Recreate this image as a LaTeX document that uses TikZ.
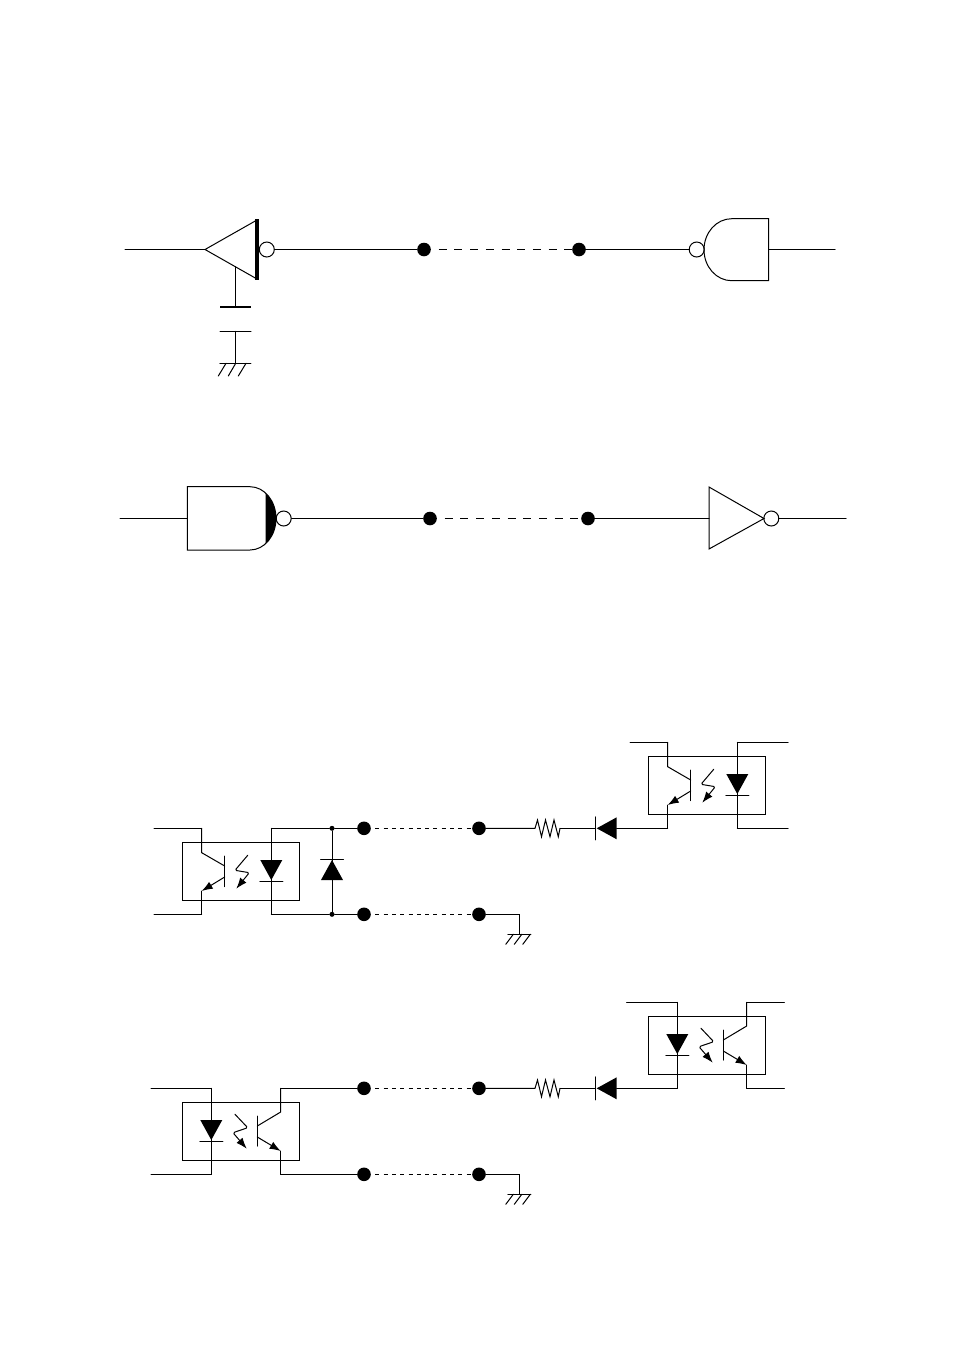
\documentclass[tikz,border=0pt]{standalone}
\usetikzlibrary{arrows.meta}
\tikzset{
  wire/.style = {line width=1pt, line cap=round, line join=miter},
  bus-dash/.style = {line width=1pt, dash pattern=on 8pt off 7.7pt, dash phase=8pt},
  link-dash/.style = {line width=1pt, dash pattern=on 4pt off 4.3pt, dash phase=4pt},
  end-dot/.style = {circle, fill=black, inner sep=0pt, minimum size=13.6pt},
  tap-dot/.style = {circle, fill=black, inner sep=0pt, minimum size=5pt},
  bubble/.style = {circle, draw, fill=white, wire, inner sep=0pt, minimum size=15pt},
  tip/.style = {-{Latex[length=11pt,width=8pt]}},
  diode/.pic = {
    \fill (-11,-10) -- (11,-10) -- (0,10) -- cycle;
    \draw[wire] (-11.5,11) -- (11.5,11);
    \coordinate (-in) at (0,-10);
    \coordinate (-out) at (0,11);
  },
  earth/.pic = {
    \draw[wire] (-11.5,0) -- (11.5,0);
    \draw[wire] (-6,0) -- (-13.5,10) (2.5,0) -- (-5,10) (11,0) -- (3.5,10);
  },
  earth-big/.pic = {
    \draw[wire] (-15.5,0) -- (15.5,0);
    \draw[wire] (-9.3,0) -- (-17,12.7) (0.4,0) -- (-7,12.7) (10.7,0) -- (3,12.7);
  },
  opto-a/.pic = {
    \draw[wire] (0,0) rectangle (117,58);
    % transistor on the left
    \coordinate (-tl) at (19.4,-14);
    \coordinate (-bl) at (19.4,72);
    \coordinate (-tr) at (89,-14);
    \coordinate (-br) at (89,72);
    \draw[wire] (-tl) -- (19.4,10.4) -- (42.4,23.7);
    \draw[wire] (42.4,13.7) -- (42.4,44.4);
    \draw[wire,tip] (42.4,34.7) -- (19.4,48.7);
    \draw[wire] (19.4,48.7) -- (-bl);
    \draw[wire,tip,rounded corners=1.5pt] (65.4,13) -- (52.7,28) -- (67,30.4) -- (54,46.4);
    \draw[wire] (-tr) -- (-br);
    \pic at (89,27.7) {diode};
  },
  opto-b/.pic = {
    \draw[wire] (0,0) rectangle (117,58);
    % transistor on the right
    \coordinate (-tl) at (29,-14);
    \coordinate (-bl) at (29,72);
    \coordinate (-tr) at (98.4,-14);
    \coordinate (-br) at (98.4,72);
    \draw[wire] (-tl) -- (-bl);
    \pic at (29,27.7) {diode};
    \draw[wire,tip,rounded corners=1.5pt] (52.7,12) -- (65.4,25.4) -- (50.7,30.4) -- (64.4,46.4);
    \draw[wire] (75,13.7) -- (75,43.7);
    \draw[wire] (75,23.7) -- (98.4,9.7) -- (-tr);
    \draw[wire,tip] (75,34.7) -- (98.4,48.7);
    \draw[wire] (98.4,48.7) -- (-br);
  }
}
\begin{document}
\begin{tikzpicture}[x=1pt, y=-1pt]
  \useasboundingbox (0,0) rectangle (954,1355);

  % first line
  \coordinate (in1) at (125,249.5);
  \coordinate (apex1) at (205,249.5);
  \coordinate (bar1t) at (257,219);
  \coordinate (bar1b) at (257,280);
  \coordinate (out1) at (835,249.5);
  \draw[wire] (apex1) -- (257,220) -- (257,279) -- cycle;
  \draw[line width=4.6pt] (bar1t) -- (bar1b);
  \node[bubble] (inv1) at (266.8,249.5) {};
  \node[end-dot] (d1) at (424,249.5) {};
  \node[end-dot] (d2) at (579,249.5) {};
  \node[bubble] (nand1) at (696.7,249.5) {};
  \draw[wire] (in1) -- (apex1);
  \draw[wire] (inv1) -- (d1);
  \draw[bus-dash] (d1) -- (d2);
  \draw[wire] (d2) -- (nand1);
  \draw[wire] (768.7,218.7) -- (731.7,218.7) .. controls (716.4,218.7) and (704,232.6) .. (704,249.7)
    .. controls (704,266.8) and (716.4,280.7) .. (731.7,280.7) -- (768.7,280.7) -- cycle;
  \draw[wire] (768.7,249.5) -- (out1);

  % capacitor to earth
  \coordinate (cap1) at (235.3,266.7);
  \coordinate (cap2) at (235.3,306.7);
  \coordinate (cap3) at (235.3,331.3);
  \coordinate (gnd1) at (235.3,363.3);
  \draw[wire] (cap1) -- (cap2);
  \draw[line width=2pt] (220,306.7) -- (251,306.7);
  \draw[wire] (220,331.3) -- (251,331.3);
  \draw[wire] (cap3) -- (gnd1);
  \pic at (gnd1) {earth-big};

  % second line
  \coordinate (in2) at (120,518.5);
  \coordinate (out2) at (846,518.5);
  \node[bubble] (nand2) at (283.7,518.5) {};
  \node[end-dot] (d3) at (430,518.5) {};
  \node[end-dot] (d4) at (588,518.5) {};
  \node[bubble] (inv2) at (771.3,518.5) {};
  \begin{scope}
    \clip (265.7,480) rectangle (280,556);
    \fill (250,486.7) .. controls (264.4,486.7) and (276,500.9) .. (276,518.4)
      .. controls (276,535.9) and (264.4,550) .. (250,550) -- cycle;
  \end{scope}
  \draw[wire] (187.3,486.7) -- (250,486.7) .. controls (264.4,486.7) and (276,500.9) .. (276,518.4)
    .. controls (276,535.9) and (264.4,550) .. (250,550) -- (187.3,550) -- cycle;
  \draw[wire] (in2) -- (187.3,518.5);
  \draw[wire] (nand2) -- (d3);
  \draw[bus-dash] (d3) -- (d4);
  \draw[wire] (d4) -- (709,518.5);
  \draw[wire] (709,487) -- (764,518.5) -- (709,549) -- cycle;
  \draw[wire] (inv2) -- (out2);

  % third line
  \pic (u1) at (648.3,756.3) {opto-a};
  \pic (u2) at (182.3,842.3) {opto-a};
  \coordinate (u1-a) at (630,742.3);
  \coordinate (u1-b) at (788,742.3);
  \coordinate (u1-c) at (788,828.3);
  \coordinate (u2-a) at (154,828.3);
  \coordinate (u2-b) at (154,914.3);
  \draw[wire] (u1-a) -- (u1-tl);
  \draw[wire] (u1-tr) -- (u1-b);
  \draw[wire] (u1-br) -- (u1-c);
  \draw[wire] (u2-a) -- (u2-tl);
  \draw[wire] (u2-b) -- (u2-bl);
  \node[end-dot] (d5) at (364,828.3) {};
  \node[end-dot] (d6) at (479,828.3) {};
  \node[end-dot] (d7) at (364,914.3) {};
  \node[end-dot] (d8) at (479,914.3) {};
  \node[tap-dot] (t1) at (332,828.3) {};
  \node[tap-dot] (t2) at (332,914.3) {};
  \draw[wire] (u2-tr) -- (t1) -- (d5);
  \draw[wire] (u2-br) -- (t2) -- (d7);
  \draw[wire] (t1) -- (t2);
  \pic at (332,870) [rotate=180] {diode};
  \draw[link-dash] (d5) -- (d6);
  \draw[link-dash] (d7) -- (d8);
  \coordinate (r1) at (535,828.3);
  \coordinate (r2) at (560,828.3);
  \draw[wire] (d6) -- (r1) -- (537.5,820) -- (541.5,836.7) -- (545.5,820) -- (550,836.7) -- (554,820) -- (558.3,836.7) -- (r2);
  \pic (k1) at (606.7,828.3) [rotate=-90] {diode};
  \draw[wire] (r2) -- (k1-out);
  \draw[wire] (k1-in) -- (u1-bl);
  \coordinate (g1) at (519.3,914.3);
  \coordinate (g2) at (519.3,934.3);
  \draw[wire] (d8) -- (g1) -- (g2);
  \pic at (g2) {earth};

  % fourth line
  \pic (u3) at (648.3,1016.3) {opto-b};
  \pic (u4) at (182.3,1102.3) {opto-b};
  \coordinate (u3-a) at (626.7,1002.3);
  \coordinate (u3-b) at (784.3,1002.3);
  \coordinate (u3-c) at (784.3,1088.3);
  \coordinate (u4-a) at (151,1088.3);
  \coordinate (u4-b) at (151,1174.3);
  \draw[wire] (u3-a) -- (u3-tl);
  \draw[wire] (u3-tr) -- (u3-b);
  \draw[wire] (u3-br) -- (u3-c);
  \draw[wire] (u4-a) -- (u4-tl);
  \draw[wire] (u4-b) -- (u4-bl);
  \node[end-dot] (d9) at (364,1088.3) {};
  \node[end-dot] (d10) at (479,1088.3) {};
  \node[end-dot] (d11) at (364,1174.3) {};
  \node[end-dot] (d12) at (479,1174.3) {};
  \draw[wire] (u4-tr) -- (d9);
  \draw[wire] (u4-br) -- (d11);
  \draw[link-dash] (d9) -- (d10);
  \draw[link-dash] (d11) -- (d12);
  \coordinate (r3) at (535,1088.3);
  \coordinate (r4) at (560,1088.3);
  \draw[wire] (d10) -- (r3) -- (537.5,1080) -- (541.5,1096.7) -- (545.5,1080) -- (550,1096.7) -- (554,1080) -- (558.3,1096.7) -- (r4);
  \pic (k2) at (606.7,1088.3) [rotate=-90] {diode};
  \draw[wire] (r4) -- (k2-out);
  \draw[wire] (k2-in) -- (u3-bl);
  \coordinate (g3) at (519.3,1174.3);
  \coordinate (g4) at (519.3,1194.3);
  \draw[wire] (d12) -- (g3) -- (g4);
  \pic at (g4) {earth};
\end{tikzpicture}
\end{document}
